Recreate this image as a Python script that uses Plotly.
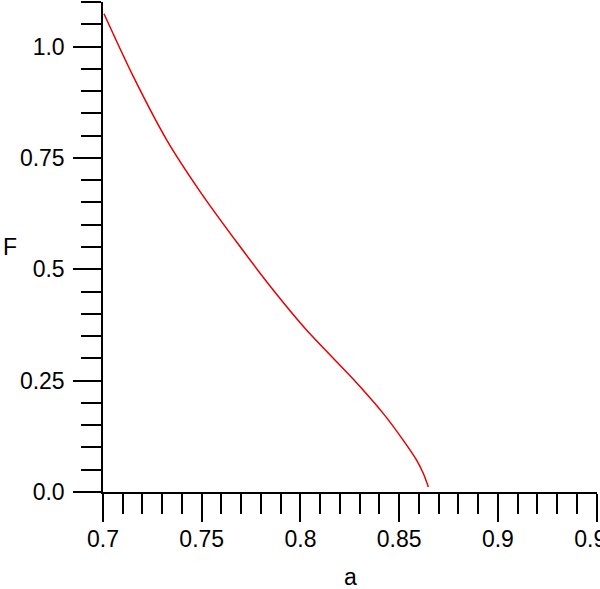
import plotly.graph_objects as go

a_vals = [0.7005, 0.7152, 0.7323, 0.7491, 0.7694, 0.7863, 0.8032, 0.8268, 0.8420, 0.8521, 0.8589, 0.8623, 0.8648]
F_vals = [1.0735, 0.934, 0.790, 0.675, 0.551, 0.453, 0.363, 0.253, 0.176, 0.116, 0.071, 0.041, 0.011]

x_ticks = [0.7, 0.75, 0.8, 0.85, 0.9, 0.95]
x_ticktext = ["0.7", "0.75", "0.8", "0.85", "0.9", "0.95"]
y_ticks = [0.0, 0.25, 0.5, 0.75, 1.0]
y_ticktext = ["0.0", "0.25", "0.5", "0.75", "1.0"]

font_family = "Liberation Sans, Arial, sans-serif"

fig = go.Figure()
fig.add_trace(go.Scatter(x=a_vals, y=F_vals, mode="lines",
                         line=dict(color="rgb(230,0,0)", width=1.5, shape="spline", smoothing=0.8),
                         showlegend=False))

fig.update_layout(
    width=600, height=589,
    margin=dict(l=103, r=3, t=2, b=97),
    paper_bgcolor="white", plot_bgcolor="white",
    font=dict(family=font_family, size=23, color="black"),
    xaxis=dict(range=[0.7, 0.9502], tickmode="array", tickvals=x_ticks, ticktext=x_ticktext,
               automargin=False, ticklabeloverflow="allow",
               showgrid=False, zeroline=False, showline=True, linecolor="black", linewidth=1.5,
               ticks="outside", ticklen=28, tickwidth=1.5, tickcolor="black",
               minor=dict(dtick=0.01, ticks="outside", ticklen=20, tickwidth=1.5, tickcolor="black", showgrid=False),
               tickfont=dict(size=23), ticklabelstandoff=-2),
    yaxis=dict(range=[0, 1.1], tickmode="array", tickvals=y_ticks, ticktext=y_ticktext,
               automargin=False, ticklabeloverflow="allow",
               showgrid=False, zeroline=False, showline=True, linecolor="black", linewidth=1.5,
               ticks="outside", ticklen=28, tickwidth=1.5, tickcolor="black",
               minor=dict(dtick=0.05, ticks="outside", ticklen=20, tickwidth=1.5, tickcolor="black", showgrid=False),
               tickfont=dict(size=23), ticklabelstandoff=4),
    annotations=[
        dict(text="F", xref="paper", yref="paper", x=-102/494, y=(589 - 97 - 247) / 490,
             xanchor="left", yanchor="middle", showarrow=False, font=dict(size=23)),
        dict(text="a", xref="paper", yref="paper", x=(350 - 103) / 494, y=-(577 - 492) / 490,
             xanchor="center", yanchor="middle", showarrow=False, font=dict(size=23)),
    ],
)

fig.write_html("out.html", config={"displayModeBar": False},
               post_script="document.body.style.margin='0';document.body.style.overflow='hidden';")
